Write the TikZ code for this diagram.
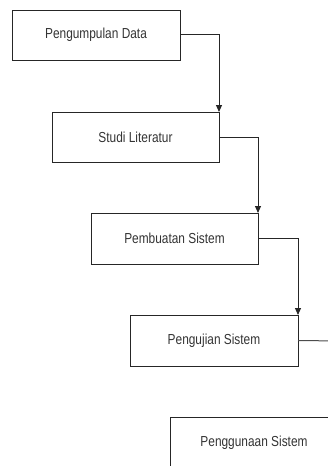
\documentclass[tikz,border=0pt]{standalone}
\usepackage{fontspec}
\setmainfont{Liberation Sans}[FakeStretch=0.82]
\usetikzlibrary{arrows.meta}
\tikzset{
  stepbox/.style={draw=black!85, line width=1pt, rectangle, anchor=north west,
    minimum width=168pt, minimum height=50pt, inner sep=0pt, outer sep=0pt,
    font=\fontsize{14.5}{16}\selectfont, text=black!80},
  link/.style={draw=black!85, line width=1pt, -{Triangle[length=7pt,width=6pt]}},
  plainlink/.style={draw=black!70, line width=1pt}
}
\begin{document}
\begin{tikzpicture}[x=1pt,y=-1pt]
\useasboundingbox (0,0) rectangle (328,466);
\clip (0,0) rectangle (328,466);
\node[stepbox] (b1) at (12,10) {Pengumpulan Data};
\node[stepbox, minimum width=167pt] (b2) at (52,112) {Studi Literatur};
\node[stepbox, minimum width=167pt, minimum height=51pt] (b3) at (91,213) {Pembuatan Sistem};
\node[stepbox, minimum width=168pt, minimum height=51pt] (b4) at (130,315) {Pengujian Sistem};
\node[stepbox, minimum width=168pt, minimum height=60pt, text height=10pt, text depth=11pt] (b5) at (170,417) {Penggunaan Sistem};
\coordinate (out) at (340,341);
\draw[link] ([yshift=1pt]b1.east) -| (b2.north east);
\draw[link] (b2.east) -| (b3.north east);
\draw[link] (b3.east) -| (b4.north east);
\draw[plainlink] (b4.east) -- (out);
\end{tikzpicture}
\end{document}
